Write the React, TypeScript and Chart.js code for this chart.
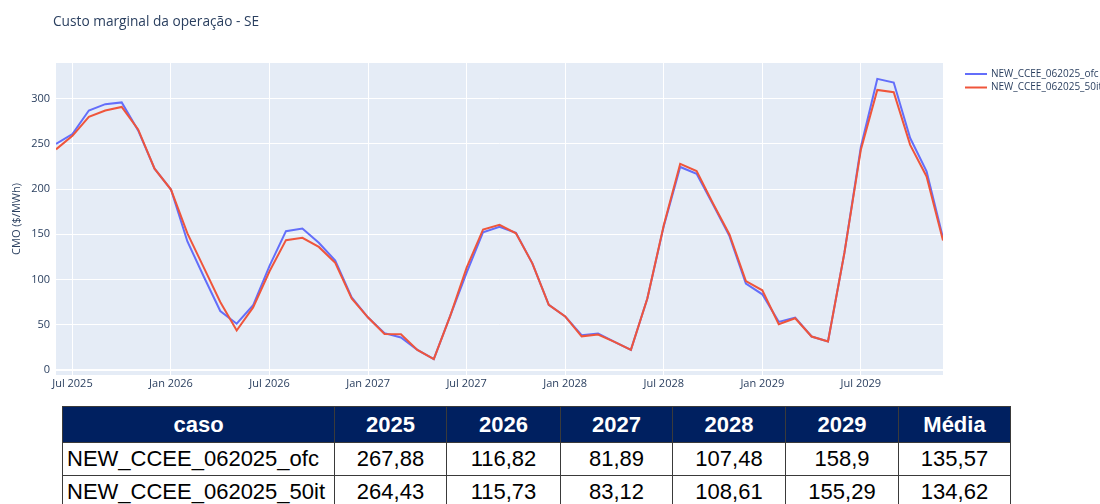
import React, { useEffect, useRef } from "react";
import { Chart, registerables } from "chart.js";

Chart.register(...registerables);

const chartTitle = "Custo marginal da operação - SE";
const yAxisTitle = "CMO ($/MWh)";

const months = [
  "2025-06", "2025-07", "2025-08", "2025-09", "2025-10", "2025-11", "2025-12",
  "2026-01", "2026-02", "2026-03", "2026-04", "2026-05", "2026-06", "2026-07", "2026-08", "2026-09", "2026-10", "2026-11", "2026-12",
  "2027-01", "2027-02", "2027-03", "2027-04", "2027-05", "2027-06", "2027-07", "2027-08", "2027-09", "2027-10", "2027-11", "2027-12",
  "2028-01", "2028-02", "2028-03", "2028-04", "2028-05", "2028-06", "2028-07", "2028-08", "2028-09", "2028-10", "2028-11", "2028-12",
  "2029-01", "2029-02", "2029-03", "2029-04", "2029-05", "2029-06", "2029-07", "2029-08", "2029-09", "2029-10", "2029-11", "2029-12",
];

const seriesOfcName = "NEW_CCEE_062025_ofc";
const seriesOfc = [
  250, 261, 287, 294, 296, 265, 222.6,
  199.5, 142, 103, 65, 51, 71.4, 115, 153.4, 156.4, 140.6, 121, 80,
  57.8, 40.5, 35.7, 22, 11.8, 59.6, 107.5, 152.3, 158.3, 151.6, 117.8, 71.8,
  59, 38.3, 40.2, 30.9, 22, 78.8, 159, 224.5, 217, 183, 148, 95.4,
  83.5, 53, 57.8, 36.8, 31.3, 129.6, 246.6, 322, 318, 256.5, 219.6, 146,
];

const series50itName = "NEW_CCEE_062025_50it";
const series50it = [
  244, 259, 280, 287, 291, 266, 222.6,
  199.5, 151, 113, 75, 43.5, 69, 109, 143.5, 146, 136, 118.5, 79,
  57.8, 39.7, 39.4, 22, 11.8, 59.6, 113, 155.3, 160.5, 151, 117.8, 71.8,
  59, 37, 39, 30.9, 22, 78.8, 160, 228, 220, 184, 149.8, 98.2,
  88, 50.4, 57, 36.8, 31.3, 129.6, 243.6, 309.8, 307.3, 249, 214, 143,
];

const xTickMonths = ["2025-07", "2026-01", "2026-07", "2027-01", "2027-07", "2028-01", "2028-07", "2029-01", "2029-07"];
const xTickLabels = ["Jul 2025", "Jan 2026", "Jul 2026", "Jan 2027", "Jul 2027", "Jan 2028", "Jul 2028", "Jan 2029", "Jul 2029"];
const yTicks = [0, 50, 100, 150, 200, 250, 300];

const tableHeader = ["caso", "2025", "2026", "2027", "2028", "2029", "Média"];
const tableRowOfc = ["NEW_CCEE_062025_ofc", "267,88", "116,82", "81,89", "107,48", "158,9", "135,57"];
const tableRow50it = ["NEW_CCEE_062025_50it", "264,43", "115,73", "83,12", "108,61", "155,29", "134,62"];

const BLUE = "#636EFA";
const RED = "#EF553B";
const FONT = '"Open Sans", "DejaVu Sans", sans-serif';
const TEXT = "#2a3f5f";

const decorPlugin = {
  id: "plotlyDecor",
  beforeDraw(chart: any) {
    const { ctx, chartArea } = chart;
    ctx.save();
    ctx.fillStyle = "#E5ECF6";
    ctx.fillRect(chartArea.left, chartArea.top, chartArea.right - chartArea.left, chartArea.bottom - chartArea.top);
    ctx.restore();
  },
  afterDraw(chart: any) {
    const { ctx } = chart;
    ctx.save();
    ctx.fillStyle = TEXT;
    ctx.font = `13.7px ${FONT}`;
    ctx.textBaseline = "alphabetic";
    ctx.textAlign = "left";
    ctx.fillText(chartTitle, 53, 26);

    ctx.font = `10px ${FONT}`;
    ctx.textBaseline = "middle";
    chart.data.datasets.forEach((ds: any, i: number) => {
      const y = 74 + i * 13.5;
      ctx.strokeStyle = ds.borderColor;
      ctx.lineWidth = 2;
      ctx.beginPath();
      ctx.moveTo(965, y);
      ctx.lineTo(987, y);
      ctx.stroke();
      ctx.fillStyle = TEXT;
      ctx.fillText(ds.label, 991, y);
    });
    ctx.restore();
  },
};

function ChartView() {
  const ref = useRef<HTMLCanvasElement | null>(null);
  useEffect(() => {
    if (!ref.current) return;
    const chart = new Chart(ref.current, {
      type: "line",
      data: {
        datasets: [
          {
            label: seriesOfcName,
            data: seriesOfc.map((v, i) => ({ x: i, y: v })),
            borderColor: BLUE,
            backgroundColor: BLUE,
            borderWidth: 2,
            pointRadius: 0,
            tension: 0,
            order: 1,
          },
          {
            label: series50itName,
            data: series50it.map((v, i) => ({ x: i, y: v })),
            borderColor: RED,
            backgroundColor: RED,
            borderWidth: 2,
            pointRadius: 0,
            tension: 0,
            order: 0,
          },
        ],
      },
      options: {
        animation: false,
        responsive: false,
        maintainAspectRatio: false,
        layout: { padding: { top: 63, right: 157, left: 0, bottom: 0 } },
        plugins: {
          legend: { display: false },
          title: { display: false },
          tooltip: { enabled: false },
        },
        scales: {
          x: {
            type: "linear",
            min: 0,
            max: months.length - 1,
            afterBuildTicks: (scale: any) => {
              scale.ticks = xTickMonths.map((m) => ({ value: months.indexOf(m) }));
            },
            afterFit: (scale: any) => {
              scale.height = 25;
            },
            ticks: {
              autoSkip: false,
              maxRotation: 0,
              padding: 2,
              color: TEXT,
              font: { family: FONT, size: 11 },
              callback: (v: any) => {
                const idx = xTickMonths.indexOf(months[Math.round(Number(v))]);
                return idx >= 0 ? xTickLabels[idx] : "";
              },
            },
            grid: { color: "#ffffff", lineWidth: 1, drawTicks: false },
            border: { display: false },
          },
          y: {
            type: "linear",
            min: -5.8,
            max: 339.6,
            afterBuildTicks: (scale: any) => {
              scale.ticks = yTicks.map((v) => ({ value: v }));
            },
            afterFit: (scale: any) => {
              scale.width = 56;
            },
            ticks: {
              padding: 6,
              color: TEXT,
              font: { family: FONT, size: 11 },
              callback: (v: any) => String(v),
            },
            grid: {
              color: "#ffffff",
              lineWidth: (c: any) => (c.tick && c.tick.value === 0 ? 2 : 1),
              drawTicks: false,
            },
            border: { display: false },
            title: {
              display: true,
              text: yAxisTitle,
              color: TEXT,
              font: { family: FONT, size: 11 },
              padding: { top: 10, bottom: 0 },
            },
          },
        },
      },
      plugins: [decorPlugin],
    } as any);
    return () => chart.destroy();
  }, []);
  return <canvas ref={ref} width={1100} height={400} style={{ position: "absolute", left: 0, top: 0, width: 1100, height: 400 }} />;
}

const colWidths = [272, 112, 114, 112, 113, 113, 112];

function SummaryTable() {
  const cellBase: React.CSSProperties = {
    border: "1px solid #3a3a3a",
    padding: 0,
    textAlign: "center",
    fontFamily: '"Liberation Sans", Arial, sans-serif',
    fontSize: 22,
    whiteSpace: "nowrap",
    overflow: "hidden",
  };
  const rows = [tableRowOfc, tableRow50it];
  return (
    <table
      style={{
        position: "absolute",
        left: 62,
        top: 406,
        borderCollapse: "collapse",
        tableLayout: "fixed",
        width: colWidths.reduce((a, b) => a + b, 0),
      }}
    >
      <colgroup>
        {colWidths.map((w, i) => (
          <col key={i} style={{ width: w }} />
        ))}
      </colgroup>
      <thead>
        <tr style={{ height: 36 }}>
          {tableHeader.map((h, i) => (
            <th key={i} style={{ ...cellBase, background: "#002060", color: "#ffffff", fontWeight: 700 }}>
              {h}
            </th>
          ))}
        </tr>
      </thead>
      <tbody>
        {rows.map((r, ri) => (
          <tr key={ri} style={{ height: 33 }}>
            {r.map((c, ci) => (
              <td
                key={ci}
                style={{
                  ...cellBase,
                  color: "#000000",
                  background: "#ffffff",
                  textAlign: ci === 0 ? "left" : "center",
                  paddingLeft: ci === 0 ? 4 : 0,
                }}
              >
                {c}
              </td>
            ))}
          </tr>
        ))}
      </tbody>
    </table>
  );
}

export default function App() {
  useEffect(() => {
    document.body.style.margin = "0";
  }, []);
  return (
    <div style={{ position: "relative", width: 1100, height: 504, overflow: "hidden", background: "#ffffff" }}>
      <ChartView />
      <SummaryTable />
    </div>
  );
}
